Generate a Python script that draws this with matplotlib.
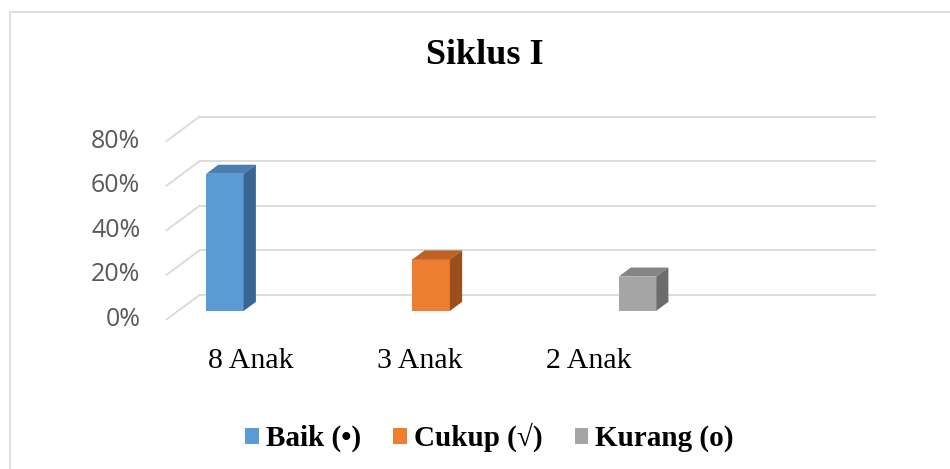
import matplotlib

matplotlib.use("Agg")
import matplotlib.pyplot as plt
from matplotlib.patches import Patch, Rectangle

# data
categories = ["8 Anak", "3 Anak", "2 Anak", ""]
series = ["Baik (•)", "Cukup (√)", "Kurang (o)"]
values = [61.5, 23.1, 15.4]          # percent, series i sits in category i
yticks = [0, 20, 40, 60, 80]

front_colors = ["#5B9BD5", "#ED7D31", "#A5A5A5"]
top_colors = ["#4A7DB0", "#BD6224", "#858585"]
side_colors = ["#3A6590", "#9A4F1C", "#6C6C6C"]

W, H = 950, 469
x0_px, y0_px = 166.5, 319.5          # front edge of the floor, 0%
px_per_cat, px_per_pct = 168.75, 2.23

fig = plt.figure(figsize=(W / 100, H / 100), dpi=100)
ax = fig.add_axes([0, 0, 1, 1])
ax.set_xlim(-x0_px / px_per_cat, (W - x0_px) / px_per_cat)
ax.set_ylim((y0_px - H) / px_per_pct, y0_px / px_per_pct)
ax.axis("off")

# oblique depth vector (full floor depth) in data units
dx, dy = 33 / px_per_cat, 24.5 / px_per_pct
f0, f1 = 0.35, 0.72                  # bar depth span
grid_c = "#D9D9D9"
ncat = len(categories)

for t in yticks:
    ax.plot([0, dx], [t, t + dy], color=grid_c, lw=1.3, zorder=1)
    ax.plot([dx, ncat + dx], [t + dy, t + dy], color=grid_c, lw=1.3, zorder=1)
    ax.text(-0.155, t, f"{t}%", ha="right", va="center", fontsize=18,
            family="Open Sans", color="#595959")

for i, c in enumerate(categories):
    ax.text(i + 0.5, -18.6, c, ha="center", va="center", fontsize=21.5,
            family="Liberation Serif", color="black")

gap = 1.5
w = 1 / (len(series) + gap)
for i, v in enumerate(values):
    left = i + 0.5 + (i - 1) * w - w / 2
    ax.bar(left + f0 * dx, v, width=w, bottom=f0 * dy, align="edge",
           color=front_colors[i], zorder=3)
    ax.fill([left + f0 * dx, left + w + f0 * dx, left + w + f1 * dx, left + f1 * dx],
            [v + f0 * dy, v + f0 * dy, v + f1 * dy, v + f1 * dy],
            color=top_colors[i], zorder=3, lw=0)
    ax.fill([left + w + f0 * dx, left + w + f1 * dx, left + w + f1 * dx, left + w + f0 * dx],
            [f0 * dy, f1 * dy, v + f1 * dy, v + f0 * dy],
            color=side_colors[i], zorder=3, lw=0)

fig.patches.append(Rectangle((10 / W, -0.1), 1.2, 1.1 - 12 / H, transform=fig.transFigure,
                             fill=False, edgecolor="#D9D9D9", lw=1.2))

fig.text(484.7 / W, 1 - 55 / H, "Siklus I", ha="center", va="center", fontsize=26,
         family="Liberation Serif", weight="bold")

handles = [Patch(facecolor=c, edgecolor="none") for c in front_colors]
fig.legend(handles, series, loc="center", bbox_to_anchor=(489.5 / W, 1 - 437.5 / H),
           ncol=3, frameon=False, handlelength=0.46, handleheight=0.46,
           handletextpad=0.25, columnspacing=1.1,
           prop=dict(family=["Liberation Serif", "DejaVu Serif"], weight="bold", size=21))

fig.savefig("out.png", dpi=100)
